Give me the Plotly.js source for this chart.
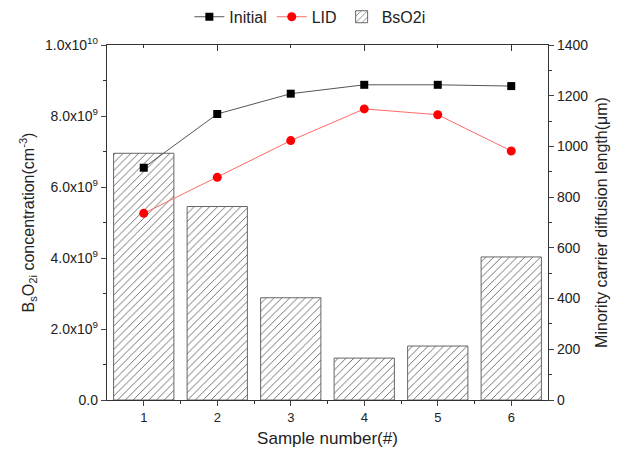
<!DOCTYPE html>
<html><head><meta charset="utf-8">
<script src="https://cdn.plot.ly/plotly-3.0.1.min.js"></script>
<style>html,body{margin:0;padding:0;background:#fff;}</style>
</head><body><div id="chart" style="width:626px;height:455px;"></div>
<script>
const samples = [1, 2, 3, 4, 5, 6];
const bso2i = [6.95e9, 5.45e9, 2.88e9, 1.18e9, 1.52e9, 4.03e9];
const initial = [916, 1128, 1208, 1243, 1243, 1238];
const lid = [736, 878, 1023, 1148, 1125, 982];
const leftTickVals = [0, 2e9, 4e9, 6e9, 8e9, 1e10];
const leftTickText = ['0.0', '2.0x10<sup>9</sup>', '4.0x10<sup>9</sup>', '6.0x10<sup>9</sup>', '8.0x10<sup>9</sup>', '1.0x10<sup>10</sup>'];
const leftMinor = [1e9, 3e9, 5e9, 7e9, 9e9];
const xMinor = [1.5, 2.5, 3.5, 4.5, 5.5];
const topMajor = [2, 4, 6];
const topMinor = [1, 3, 5];

const font = {family: 'Liberation Sans, Arial, sans-serif', color: '#222'};
const f = (s) => Object.assign({size: s}, font);
const traces = [
  {type: 'bar', x: samples, y: bso2i, name: 'BsO2i', yaxis: 'y', xaxis: 'x', width: 0.82,
   marker: {color: '#fff', line: {color: '#666', width: 1},
            pattern: {shape: '/', fgcolor: '#555', bgcolor: '#fff', size: 5.5, solidity: 0.15}},
   legendrank: 3},
  {type: 'scatter', mode: 'lines+markers', x: samples, y: initial, name: 'Initial', yaxis: 'y2', xaxis: 'x',
   line: {color: '#555', width: 1}, marker: {symbol: 'square', size: 8, color: '#000'}, legendrank: 1},
  {type: 'scatter', mode: 'lines+markers', x: samples, y: lid, name: 'LID', yaxis: 'y2', xaxis: 'x',
   line: {color: '#ff6a6a', width: 1}, marker: {symbol: 'circle', size: 9, color: '#ff0000'}, legendrank: 2},
  {type: 'scatter', x: [samples[0]], y: [initial[0]], xaxis: 'x2', yaxis: 'y2', mode: 'markers',
   marker: {opacity: 0}, showlegend: false, hoverinfo: 'skip'}
];
const layout = {
  width: 626, height: 455,
  margin: {l: 107, r: 78, t: 45, b: 55, autoexpand: false},
  paper_bgcolor: '#fff', plot_bgcolor: '#fff',
  font: f(13),
  showlegend: true,
  legend: {orientation: 'h', x: 0.46, xanchor: 'center', yref: 'container', y: 0.963, yanchor: 'middle',
           font: f(16), itemwidth: 30, tracegroupgap: 0},
  xaxis: {range: [0.5, 6.5], tickvals: samples, ticktext: samples.map(String), ticks: 'outside', ticklen: 5,
          showline: true, linecolor: '#333', linewidth: 1.2, mirror: true, showgrid: false, zeroline: false,
          tickfont: f(13),
          minor: {tickvals: xMinor, ticks: 'outside', ticklen: 3, tickcolor: '#333'},
          title: {text: 'Sample number(#)', font: f(17), standoff: 8}},
  xaxis2: {range: [0.5, 6.5], overlaying: 'x', side: 'top', tickvals: topMajor, ticks: 'inside', ticklen: 6,
           tickcolor: '#333', showticklabels: false, showgrid: false, zeroline: false, showline: false,
           minor: {tickvals: topMinor, ticks: 'inside', ticklen: 3, tickcolor: '#333'}},
  yaxis: {range: [0, 1e10], tickvals: leftTickVals, ticktext: leftTickText, ticks: 'outside', ticklen: 5,
          showline: true, linecolor: '#333', linewidth: 1.2, showgrid: false, zeroline: false,
          tickfont: f(14),
          minor: {tickvals: leftMinor, ticks: 'outside', ticklen: 3, tickcolor: '#333'},
          title: {text: 'B<sub>s</sub>O<sub>2i</sub> concentration(cm<sup>-3</sup>)', font: f(16), standoff: 6}},
  yaxis2: {range: [0, 1400], overlaying: 'y', side: 'right', dtick: 200, ticks: 'outside', ticklen: 5,
           showline: true, linecolor: '#333', linewidth: 1.2, showgrid: false, zeroline: false,
           tickfont: f(14),
           minor: {dtick: 100, ticks: 'outside', ticklen: 3, tickcolor: '#333'},
           title: {text: 'Minority carrier diffusion length(μm)', font: f(16), standoff: 8}}
};
Plotly.newPlot('chart', traces, layout, {displayModeBar: false, staticPlot: true});
</script></body></html>
